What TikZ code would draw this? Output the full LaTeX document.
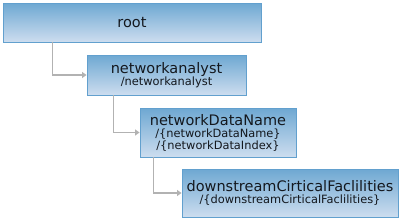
\documentclass[tikz,border=0pt]{standalone}
\usepackage{fontspec}
\setmainfont{DejaVu Sans}
\usetikzlibrary{arrows.meta}
\definecolor{boxtop}{RGB}{110,168,210}
\definecolor{boxbot}{RGB}{205,221,239}
\definecolor{boxline}{RGB}{98,160,206}
\definecolor{connc}{RGB}{178,178,178}
\definecolor{txtc}{RGB}{20,24,30}
\newcommand{\ttl}{\fontsize{14.5}{15}\selectfont}
\newcommand{\sub}{\fontsize{11.4}{12.5}\selectfont}
\tikzset{
  box/.style={draw=boxline, line width=0.9pt, top color=boxtop, bottom color=boxbot,
    inner sep=0pt, align=center, text=txtc},
  conn/.style={draw=connc, line width=1.4pt, -{Triangle[width=6pt,length=4.5pt]}}
}
\begin{document}
\begin{tikzpicture}[x=1pt,y=-1pt]
\useasboundingbox (0,0) rectangle (400,220);
\node[box, minimum width=258pt, minimum height=39pt] (root) at (132,22.5) {\ttl root};
\node[box, minimum width=159pt, minimum height=40pt] (na) at (166.5,75)
  {\ttl networkanalyst\\\sub /networkanalyst};
\node[box, minimum width=156pt, minimum height=49pt] (ndn) at (218,132.5)
  {\ttl networkDataName\\\sub /\{networkDataName\}\\\sub /\{networkDataIndex\}};
\node[box, minimum width=216pt, minimum height=48pt] (ds) at (290,193)
  {\ttl downstreamCirticalFaclilities\\\sub /\{downstreamCirticalFaclilities\}};
\draw[conn] ([xshift=50pt]root.south west) |- (na.west);
\draw[conn] ([xshift=27pt]na.south west) |- (ndn.west);
\draw[conn] ([xshift=14pt]ndn.south west) |- (ds.west);
\end{tikzpicture}
\end{document}
